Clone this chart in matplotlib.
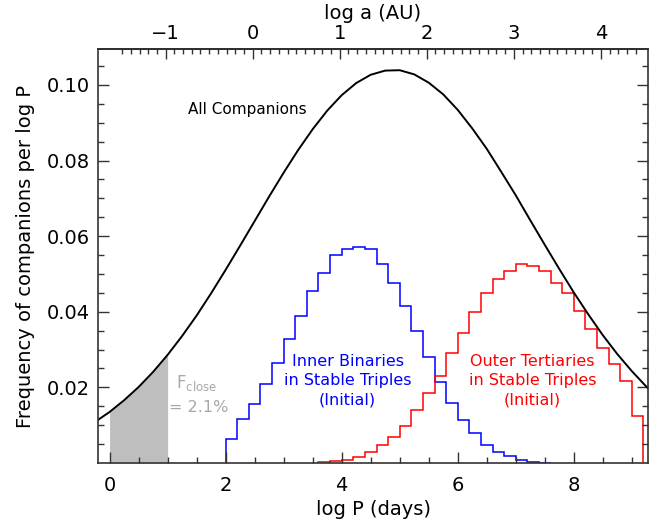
import numpy as np
import matplotlib.pyplot as plt

plt.rcParams['font.family'] = 'DejaVu Sans'
plt.rcParams['mathtext.default'] = 'regular'

# All companions curve
logp_curve = [-0.2, 0.0, 0.25, 0.5, 0.75, 1.0, 1.25, 1.5, 1.75, 2.0, 2.25, 2.5, 2.75,
              3.0, 3.25, 3.5, 3.75, 4.0, 4.25, 4.5, 4.75, 5.0, 5.25, 5.5, 5.75,
              6.0, 6.25, 6.5, 6.75, 7.0, 7.25, 7.5, 7.75, 8.0, 8.25, 8.5, 8.75,
              9.0, 9.25, 9.3]
freq_curve = [0.0114, 0.0135, 0.0166, 0.0201, 0.0241, 0.0286, 0.0336, 0.0390, 0.0449,
              0.0511, 0.0575, 0.0640, 0.0705, 0.0768, 0.0828, 0.0883, 0.0932, 0.0973,
              0.1005, 0.1027, 0.1038, 0.1039, 0.1028, 0.1006, 0.0975, 0.0934, 0.0885,
              0.0831, 0.0770, 0.0708, 0.0642, 0.0577, 0.0513, 0.0451, 0.0393, 0.0338,
              0.0288, 0.0243, 0.0202, 0.0195]

# shaded close-companion region
close_lo, close_hi = 0.0, 1.0

# histograms, bin width 0.2 in log P
bin_width = 0.2
inner_start = 2.0
inner_vals = [0.0063, 0.0116, 0.0156, 0.0208, 0.0264, 0.0328, 0.0390, 0.0455, 0.0503,
              0.0549, 0.0566, 0.0572, 0.0565, 0.0527, 0.0475, 0.0414, 0.0350, 0.0280,
              0.0215, 0.0158, 0.0114, 0.0080, 0.0048, 0.0030, 0.0018, 0.0007, 0.0003,
              0.0001]
outer_start = 3.6
outer_vals = [0.0002, 0.0004, 0.0009, 0.0017, 0.0030, 0.0048, 0.0070, 0.0099, 0.0140,
              0.0184, 0.0231, 0.0292, 0.0343, 0.0399, 0.0449, 0.0486, 0.0508, 0.0526,
              0.0521, 0.0508, 0.0477, 0.0449, 0.0402, 0.0354, 0.0303, 0.0261, 0.0217,
              0.0125]

inner_edges = inner_start + bin_width * np.arange(len(inner_vals) + 1)
outer_edges = outer_start + bin_width * np.arange(len(outer_vals) + 1)

fig = plt.figure(figsize=(6.62, 5.24), dpi=100)
ax = fig.add_axes([0.148, 0.1164, 0.831, 0.79])

x = np.array(logp_curve)
y = np.array(freq_curve)
m = (x >= close_lo) & (x <= close_hi)
ax.fill_between(x[m], 0, y[m], color='#bebebe', lw=0)

ax.stairs(inner_vals, inner_edges, color='blue', lw=1.1)
ax.stairs(outer_vals, outer_edges, color='red', lw=1.1)
ax.plot(x, y, color='black', lw=1.4)

ax.text(2.38, 0.0934, 'All Companions', fontsize=11, ha='center', va='center')
ax.text(4.10, 0.0217, 'Inner Binaries\nin Stable Triples\n(Initial)', color='blue',
        fontsize=11.5, ha='center', va='center', linespacing=1.35)
ax.text(7.29, 0.0217, 'Outer Tertiaries\nin Stable Triples\n(Initial)', color='red',
        fontsize=11.5, ha='center', va='center', linespacing=1.35)
ax.text(1.15, 0.0212, r'F$_{close}$', color='#a8a8a8', fontsize=12, ha='left', va='center')
ax.text(1.03, 0.0146, '= 2.1%', color='#a8a8a8', fontsize=11.5, ha='left', va='center')

ax.set_xlim(-0.2, 9.28)
ax.set_ylim(0, 0.1095)
ax.set_xticks([0, 2, 4, 6, 8])
ax.set_xticks(np.arange(0, 9.3, 0.5), minor=True)
ax.set_yticks([0.02, 0.04, 0.06, 0.08, 0.10])
ax.set_yticklabels(['0.02', '0.04', '0.06', '0.08', '0.10'])
ax.set_yticks(np.arange(0.005, 0.11, 0.005), minor=True)
ax.tick_params(which='both', direction='in', top=False, right=True, labelsize=14,
               color='#333333')
ax.tick_params(which='major', length=8, width=1)
ax.tick_params(which='minor', length=4, width=1)
ax.tick_params(axis='x', pad=9)
ax.tick_params(axis='y', pad=6)
for s in ax.spines.values():
    s.set_linewidth(1.2)
    s.set_color('#333333')

ax.set_xlabel('log P (days)', fontsize=14, labelpad=4)
ax.set_ylabel('Frequency of companions per log P', fontsize=14, labelpad=8)

# top axis: separation for the total mass of the system
logp0 = 2.466
top = ax.secondary_xaxis('top', functions=(lambda p: (p - logp0) / 1.5,
                                           lambda a: a * 1.5 + logp0))
top.set_xticks([-1, 0, 1, 2, 3, 4])
top.set_xticks(np.arange(-1.5, 4.5, 0.1), minor=True)
top.tick_params(which='both', direction='in', labelsize=14, color='#333333')
top.tick_params(which='major', length=7, width=1, pad=4)
top.tick_params(which='minor', length=3.5, width=1)
top.spines['top'].set_linewidth(1.2)
top.set_xlabel('log a (AU)', fontsize=14, labelpad=4)

fig.savefig('out.png', dpi=100)
